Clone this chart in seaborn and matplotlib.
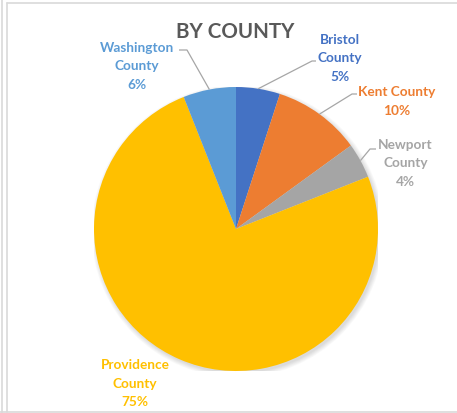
import matplotlib
matplotlib.use("Agg")
import numpy as np
import matplotlib.pyplot as plt
from matplotlib.lines import Line2D
from matplotlib.patches import Circle
import seaborn as sns

# Share of total by county (percent)
counties = ["Bristol County", "Kent County", "Newport County",
            "Providence County", "Washington County"]
shares = [5, 10, 4, 75, 6]
label_lines = [["Bristol", "County"], ["Kent County"], ["Newport", "County"],
               ["Providence", "County"], ["Washington", "County"]]
colors = ["#4472C4", "#ED7D31", "#A5A5A5", "#FFC000", "#5B9BD5"]
title = "BY COUNTY"

sns.set_theme(style="white")
plt.rcParams["font.family"] = ["Lato", "DejaVu Sans"]

W, H = 457, 414
fig = plt.figure(figsize=(W / 100, H / 100), dpi=100)

# Pie geometry in pixels (origin top-left)
CX, CY, R = 236, 230, 142
ax = fig.add_axes([(CX - R) / W, (H - CY - R) / H, 2 * R / W, 2 * R / H])


def to_data(px, py):
    return (px - CX) / R, (CY - py) / R


# soft shadow behind the pie
for i in range(6):
    ax.add_patch(Circle((0.012, -0.016), 1.0 + 0.006 * i, color="black",
                        alpha=0.022, lw=0, zorder=0))

wedges, _ = ax.pie(shares, colors=colors, startangle=90, counterclock=False,
                   radius=1, wedgeprops=dict(linewidth=0))
for w in wedges:
    w.set_zorder(2)
ax.set_xlim(-1, 1)
ax.set_ylim(-1, 1)
ax.set_aspect("equal")
ax.axis("off")

# label layout: (center x, baseline of last line, elbow point, line end) in pixels
layout = {
    "Bristol County": (339.5, 81, (312, 62), (316, 62)),
    "Kent County": (397, 115, (352, 95), (357, 95)),
    "Newport County": (405.5, 186, (370, 150), (376, 150)),
    "Providence County": (135, 406.5, None, None),
    "Washington County": (137, 89, (187, 51), (179, 51)),
}

LINE_H = 18.5
for name, share, lines, col, w in zip(counties, shares, label_lines, colors, wedges):
    cx, base, elbow, end = layout[name]
    rows = lines + [f"{share}%"]
    n = len(rows)
    for k, row in enumerate(rows):
        by = base - (n - 1 - k) * LINE_H
        fig.text(cx / W, 1 - by / H, row, color=col, fontsize=9.8,
                 fontweight="bold", ha="center", va="baseline")
    if elbow is not None:
        mid = np.deg2rad((w.theta1 + w.theta2) / 2)
        ex, ey = np.cos(mid), np.sin(mid)
        p1 = to_data(*elbow)
        p2 = to_data(*end)
        ax.plot([ex, p1[0], p2[0]], [ey, p1[1], p2[1]], color="#A6A6A6",
                lw=0.9, clip_on=False, zorder=3, solid_capstyle="butt")

fig.text(235 / W, 1 - 38 / H, title, color="#595959", fontsize=14.8,
         fontweight="bold", ha="center", va="baseline")

# chart frame
frame = "#D9D9D9"
fig.add_artist(Line2D([1.5 / W, 1.5 / W], [0, 1], color=frame, lw=1.2))
fig.add_artist(Line2D([7.5 / W, 7.5 / W], [1 - 412.5 / H, 1 - 3.5 / H], color=frame, lw=1.2))
fig.add_artist(Line2D([7.5 / W, 1], [1 - 3.5 / H, 1 - 3.5 / H], color=frame, lw=1.2))
fig.add_artist(Line2D([0, 1], [1 - 412.5 / H, 1 - 412.5 / H], color=frame, lw=1.2))

fig.savefig("out.png", dpi=100)
